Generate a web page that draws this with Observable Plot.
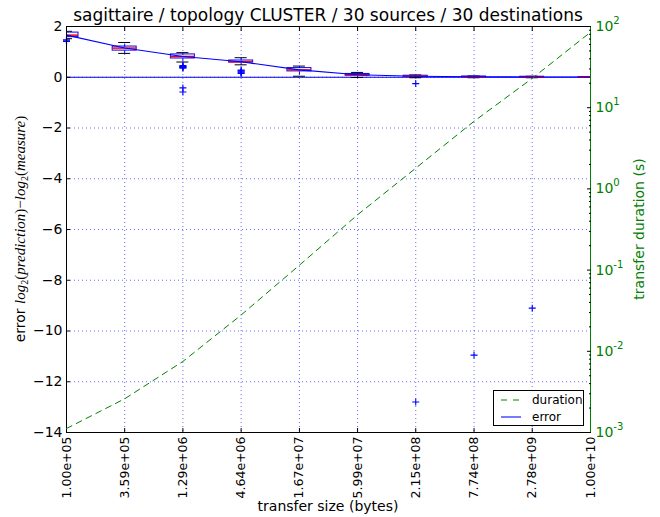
<!DOCTYPE html>
<html><head><meta charset="utf-8">
<script src="https://cdn.jsdelivr.net/npm/d3@7"></script>
<script src="https://cdn.jsdelivr.net/npm/@observablehq/plot@0.6"></script>
<style>
html,body{margin:0;padding:0;background:#fff}
#fig{position:relative;width:660px;height:517px;font-family:"DejaVu Sans",sans-serif;background:#fff}
#fig svg{position:absolute;left:0;top:0}
</style></head><body><div id="fig"></div>
<script>
// ---- data ----
const sizeLabels = ["1.00e+05","3.59e+05","1.29e+06","4.64e+06","1.67e+07","5.99e+07","2.15e+08","7.74e+08","2.78e+09","1.00e+10"];
const sizes = sizeLabels.map(Number);
const errLo  = [1.52, 0.94, 0.60, 0.49, 0.04, -0.01, -0.02, -0.02, -0.02, -0.01];
const errQ1  = [1.58, 1.05, 0.74, 0.58, 0.23, 0.06, 0.01, 0.00, 0.00, 0.00];
const errMed = [1.66, 1.15, 0.82, 0.61, 0.29, 0.10, 0.04, 0.02, 0.01, 0.01];
const errQ3  = [1.76, 1.21, 0.90, 0.66, 0.36, 0.13, 0.06, 0.03, 0.02, 0.01];
const errHi  = [1.81, 1.37, 0.97, 0.77, 0.44, 0.19, 0.09, 0.05, 0.04, 0.02];
const fliers = [[1.48,1.44,1.41],[],[0.46,0.43,0.41,0.39,0.36,-0.42,-0.58],[0.28,0.25,0.21,0.18,0.15],[],[],[-0.25,-12.8],[-10.95],[-9.1],[]];
const durations = [0.00112, 0.0026, 0.0075, 0.028, 0.115, 0.48, 1.8, 6.8, 23, 85];
const errorTicks = [-14,-12,-10,-8,-6,-4,-2,0,2];
const durationTicks = [1e-3,1e-2,1e-1,1e0,1e1,1e2];
const titleText = "sagittaire / topology CLUSTER / 30 sources / 30 destinations";

// ---- layout ----
const W = 660, H = 517, mt = 26, mb = 85, ml = 66, mr = 70;
const FONT = "DejaVu Sans";
const pxPerDecade = (W - ml - mr) / Math.log10(sizes[sizes.length-1] / sizes[0]);
const boxK = 10 ** (12 / pxPerDecade), capK = 10 ** (6 / pxPerDecade);

const boxes = sizes.map((x, i) => ({x, label: sizeLabels[i], lo: errLo[i], q1: errQ1[i], med: errMed[i], q3: errQ3[i], hi: errHi[i]}));
const flierRows = sizes.flatMap((x, i) => fliers[i].map(y => ({x, y})));
const durRows = sizes.map((x, i) => ({x, d: durations[i]}));
const minorTicks = durationTicks.slice(0, -1).flatMap(p => d3.range(2, 10).map(m => m * p));

const gridStyle = {stroke: "#3a3aff", strokeOpacity: 0.75, strokeDasharray: "1,3"};
const fmtErr = d => d < 0 ? "\u2212" + Math.abs(d) : String(d);

const main = Plot.plot({
  width: W, height: H, marginTop: mt, marginBottom: mb, marginLeft: ml, marginRight: mr,
  style: {fontFamily: FONT, background: "white", color: "black", overflow: "visible"},
  x: {type: "log", domain: [sizes[0], sizes[sizes.length-1]]},
  y: {domain: [errorTicks[0], errorTicks[errorTicks.length-1]]},
  marks: [
    Plot.gridX({ticks: sizes, ...gridStyle}),
    Plot.gridY({ticks: errorTicks, ...gridStyle}),
    Plot.ruleY([0], {stroke: "blue", strokeWidth: 1.2}),
    Plot.link(boxes, {x1: "x", x2: "x", y1: "q3", y2: "hi", stroke: "blue", strokeDasharray: "3,2", clip: true}),
    Plot.link(boxes, {x1: "x", x2: "x", y1: "q1", y2: "lo", stroke: "blue", strokeDasharray: "3,2", clip: true}),
    Plot.ruleY(boxes, {y: "hi", x1: d => d.x / capK, x2: d => d.x * capK, stroke: "black", clip: true}),
    Plot.ruleY(boxes, {y: "lo", x1: d => d.x / capK, x2: d => d.x * capK, stroke: "black", clip: true}),
    Plot.rect(boxes, {x1: d => d.x / boxK, x2: d => d.x * boxK, y1: "q1", y2: "q3", fill: "none", stroke: "blue", clip: true}),
    Plot.ruleY(boxes, {y: "med", x1: d => d.x / boxK, x2: d => d.x * boxK, stroke: "red", strokeWidth: 1.5, clip: true}),
    Plot.dot(flierRows, {x: "x", y: "y", symbol: "plus", stroke: "blue", r: 2.4, strokeWidth: 1.1}),
    Plot.line(boxes, {x: "x", y: "med", stroke: "blue", strokeWidth: 1.1}),
    Plot.frame({stroke: "black"}),
    Plot.axisX(sizes, {anchor: "bottom", tickFormat: () => "", tickSize: -4, label: null}),
    Plot.axisX(sizes, {anchor: "top", tickFormat: () => "", tickSize: -4, label: null}),
    Plot.text(boxes, {x: "x", text: "label", frameAnchor: "bottom", rotate: -90, textAnchor: "end",
                      lineAnchor: "middle", dy: 4, fontSize: 12.5, fill: "black"}),
    Plot.axisY({anchor: "left", ticks: errorTicks, tickFormat: fmtErr, tickSize: -4, tickPadding: 8,
                fontSize: 14, label: null, fill: "black"})
  ]
});

const over = Plot.plot({
  width: W, height: H, marginTop: mt, marginBottom: mb, marginLeft: ml, marginRight: mr,
  style: {fontFamily: FONT, background: "transparent", overflow: "visible"},
  x: {type: "log", domain: [sizes[0], sizes[sizes.length-1]], axis: null},
  y: {type: "log", domain: [durationTicks[0], durationTicks[durationTicks.length-1]]},
  marks: [
    Plot.line(durRows, {x: "x", y: "d", stroke: "#008000", strokeDasharray: "6,5", strokeWidth: 1}),
    Plot.ruleX([sizes[sizes.length-1]], {stroke: "#008000"}),
    Plot.axisY({anchor: "right", ticks: durationTicks, tickFormat: d => "10^" + Math.round(Math.log10(d)),
                tickSize: -4, tickPadding: 9, fontSize: 14, label: null, stroke: "black", fill: "#008000"}),
    Plot.axisY({anchor: "right", ticks: minorTicks, tickFormat: () => "", tickSize: -2, label: null, stroke: "black"})
  ]
});

const fig = document.getElementById("fig");
fig.appendChild(main);
fig.appendChild(over);

// superscript exponents
d3.select(over).selectAll('g[aria-label="y-axis tick label"] text').each(function() {
  const t = this.textContent;
  if (!t.includes("^")) return;
  const [b, e] = t.split("^");
  this.textContent = b;
  d3.select(this).append("tspan").attr("dy", "-7").attr("font-size", 10).text(e);
});

const svg = d3.select(over);
const cx = ml + (W - ml - mr) / 2;
const cy = mt + (H - mt - mb) / 2;
svg.append("text").attr("x", cx).attr("y", 21).attr("text-anchor", "middle")
  .attr("font-size", 17).attr("font-family", FONT).attr("fill", "black").text(titleText);
svg.append("text").attr("x", cx).attr("y", 511).attr("text-anchor", "middle")
  .attr("font-size", 14).attr("font-family", FONT).attr("fill", "black").text("transfer size (bytes)");
svg.append("text").attr("transform", `translate(644,${cy}) rotate(-90)`).attr("text-anchor", "middle")
  .attr("font-size", 14).attr("font-family", FONT).attr("fill", "#008000").text("transfer duration (s)");

// left label with math
const yl = svg.append("text").attr("transform", `translate(25,${cy}) rotate(-90)`).attr("text-anchor", "middle")
  .attr("font-size", 14).attr("font-family", FONT).attr("fill", "black");
const MATH = "Liberation Serif";
const parts = [
  ["error ", {}],
  ["log", {it: 1}], ["2", {sub: 1}], ["(", {m: 1, up: 1}], ["prediction", {it: 1}], [")", {m: 1}],
  ["\u2212", {m: 1}],
  ["log", {it: 1}], ["2", {sub: 1}], ["(", {m: 1, up: 1}], ["measure", {it: 1}], [")", {m: 1}]
];
for (const [txt, o] of parts) {
  const ts = yl.append("tspan").text(txt);
  if (o.it) ts.attr("font-style", "italic").attr("font-family", MATH).attr("font-size", 15);
  if (o.m) ts.attr("font-family", MATH).attr("font-size", 15);
  if (o.sub) ts.attr("font-style", "normal").attr("font-family", MATH).attr("font-size", 10).attr("dy", 3);
  if (o.up) ts.attr("dy", -3);
}

// legend
const lg = svg.append("g").attr("text-anchor", "start");
lg.append("rect").attr("x", 493.5).attr("y", 390.5).attr("width", 90).attr("height", 35)
  .attr("fill", "white").attr("stroke", "black").attr("stroke-width", 1);
lg.append("line").attr("x1", 501).attr("x2", 521).attr("y1", 400).attr("y2", 400)
  .attr("stroke", "#008000").attr("stroke-dasharray", "6,6");
lg.append("line").attr("x1", 501).attr("x2", 521).attr("y1", 417).attr("y2", 417)
  .attr("stroke", "blue").attr("stroke-width", 1.5).attr("stroke-opacity", 0.7);
lg.append("text").attr("x", 532).attr("y", 404).attr("text-anchor", "start").attr("font-size", 12).attr("font-family", FONT).attr("fill", "black").text("duration");
lg.append("text").attr("x", 532).attr("y", 421).attr("text-anchor", "start").attr("font-size", 12).attr("font-family", FONT).attr("fill", "black").text("error");
</script></body></html>
